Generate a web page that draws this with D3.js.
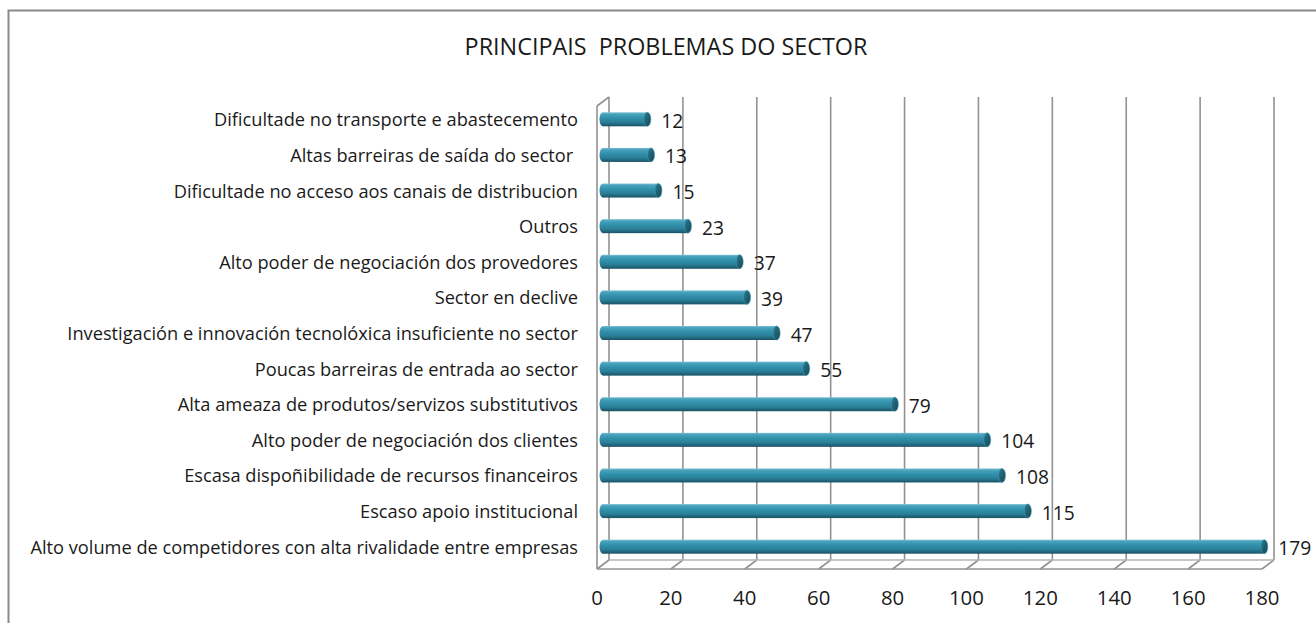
<!DOCTYPE html>
<html><head><meta charset="utf-8">
<script src="https://cdn.jsdelivr.net/npm/d3@7"></script>
<style>
body{margin:0;background:#fff}
svg{display:block}
text{font-family:"Open Sans",Lato,sans-serif;fill:#1a1a1a}
</style>
</head><body>
<svg id="c" width="1316" height="623"></svg>
<script>
const title = "PRINCIPAIS  PROBLEMAS DO SECTOR";
const categories = [
  "Dificultade no transporte e abastecemento",
  "Altas barreiras de saída do sector ",
  "Dificultade no acceso aos canais de distribucion",
  "Outros",
  "Alto poder de negociación dos provedores",
  "Sector en declive",
  "Investigación e innovación tecnolóxica insuficiente no sector",
  "Poucas barreiras de entrada ao sector",
  "Alta ameaza de produtos/servizos substitutivos",
  "Alto poder de negociación dos clientes",
  "Escasa dispoñibilidade de recursos financeiros",
  "Escaso apoio institucional",
  "Alto volume de competidores con alta rivalidade entre empresas"
];
const values = [12, 13, 15, 23, 37, 39, 47, 55, 79, 104, 108, 115, 179];
const xTicks = [0, 20, 40, 60, 80, 100, 120, 140, 160, 180];

const svg = d3.select("#c");

// 3D depth offset (front -> back)
const DX = 12, DY = -9;

const x = d3.scaleLinear().domain([0, 180]).range([597, 1262]);
const y = d3.scaleBand().domain(categories).range([97, 560]);
const backTop = 97, backBottom = 560;

function fit(sel, base, target, pick) {
  sel.style("font-size", base + "px");
  let w = 0;
  sel.each(function(d, i) { if (!pick || pick(d, i)) w = Math.max(w, this.getComputedTextLength()); });
  if (w > 0) sel.style("font-size", (base * target / w) + "px");
}

const defs = svg.append("defs");
const g1 = defs.append("linearGradient").attr("id", "barGrad").attr("x1", 0).attr("y1", 0).attr("x2", 0).attr("y2", 1);
[[0, "#7cc2d6"], [0.12, "#4aa3bd"], [0.4, "#3190ab"], [0.7, "#2a7f98"], [0.9, "#1f6276"], [1, "#1a5062"]]
  .forEach(([o, c]) => g1.append("stop").attr("offset", o).attr("stop-color", c));
const g2 = defs.append("linearGradient").attr("id", "capGrad").attr("x1", 0).attr("y1", 0).attr("x2", 1).attr("y2", 1);
[[0, "#2f7f96"], [0.5, "#1f5f72"], [1, "#174a59"]]
  .forEach(([o, c]) => g2.append("stop").attr("offset", o).attr("stop-color", c));

svg.append("rect").attr("x", 8.5).attr("y", 10.5).attr("width", 1400).attr("height", 800)
  .attr("fill", "#fff").attr("stroke", "#8a8a8a").attr("stroke-width", 2);

const t = svg.append("text").attr("x", 666).attr("y", 55).attr("text-anchor", "middle")
  .style("white-space", "pre").text(title);
fit(t, 20, 403);

const grid = svg.append("g").attr("fill", "none").attr("stroke", "#929292").attr("stroke-width", 1.6);

grid.selectAll("line.v").data(xTicks).join("line").attr("class", "v")
  .attr("x1", d => x(d) + DX).attr("x2", d => x(d) + DX)
  .attr("y1", backTop).attr("y2", backBottom);
grid.selectAll("line.f").data(xTicks).join("line").attr("class", "f")
  .attr("x1", d => x(d) + DX).attr("y1", backBottom)
  .attr("x2", d => x(d)).attr("y2", backBottom - DY);
grid.append("line").attr("x1", x(0) + DX).attr("x2", x(180) + DX).attr("y1", backBottom).attr("y2", backBottom).attr("stroke", "#b5b5b5");
grid.append("line").attr("x1", x(0)).attr("x2", x(180)).attr("y1", backBottom - DY).attr("y2", backBottom - DY);
grid.append("line").attr("x1", x(0)).attr("x2", x(0)).attr("y1", backTop - DY).attr("y2", backBottom - DY);
grid.append("line").attr("x1", x(0)).attr("y1", backTop - DY).attr("x2", x(0) + DX).attr("y2", backTop);

const bh = 14;
const cy = d => y(d) + y.bandwidth() / 2 - DY / 2;
const mx = v => x(v) + DX / 2;
const data = categories.map((c, i) => ({c, v: values[i]}));
const bars = svg.append("g").selectAll("g").data(data).join("g");
bars.append("ellipse").attr("cx", mx(0)).attr("cy", d => cy(d.c)).attr("rx", 3.5).attr("ry", bh / 2).attr("fill", "url(#barGrad)");
bars.append("rect").attr("x", mx(0)).attr("y", d => cy(d.c) - bh / 2)
  .attr("width", d => mx(d.v) - mx(0)).attr("height", bh).attr("fill", "url(#barGrad)");
bars.append("ellipse").attr("cx", d => mx(d.v)).attr("cy", d => cy(d.c)).attr("rx", 3.5).attr("ry", bh / 2)
  .attr("fill", "url(#capGrad)").attr("stroke", "#3f98b2").attr("stroke-width", 0.6);

const vl = svg.append("g").selectAll("text").data(data).join("text")
  .attr("x", d => mx(d.v) + 14).attr("y", d => cy(d.c) + 1)
  .attr("dominant-baseline", "central").text(d => d.v);
fit(vl, 17, 33, d => d.v === 179);

const cl = svg.append("g").selectAll("text").data(data).join("text")
  .attr("x", 578).attr("y", d => cy(d.c))
  .attr("text-anchor", "end").attr("dominant-baseline", "central")
  .style("white-space", "pre").text(d => d.c);
fit(cl, 16, 548);

const tl = svg.append("g").selectAll("text").data(xTicks).join("text")
  .attr("x", d => x(d)).attr("y", 597).attr("text-anchor", "middle")
  .attr("dominant-baseline", "central").text(d => d);
fit(tl, 17, 35, d => d === 180);
</script>
</body></html>
